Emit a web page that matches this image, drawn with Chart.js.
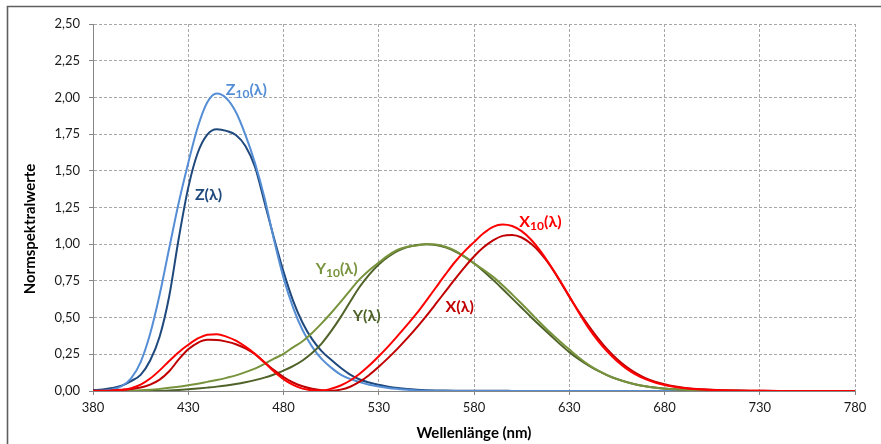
<!DOCTYPE html>
<html>
<head>
<meta charset="utf-8">
<script src="https://cdn.jsdelivr.net/npm/chart.js@4"></script>
<style>
  html, body { margin: 0; padding: 0; background: #ffffff; }
  #c { display: block; }
</style>
</head>
<body>
<canvas id="c" width="881" height="444"></canvas>
<script>
// ---------- data (CIE colour-matching functions) ----------
const wavelengths = [380,385,390,395,400,405,410,415,420,425,430,435,440,445,450,455,460,465,470,475,
  480,485,490,495,500,505,510,515,520,525,530,535,540,545,550,555,560,565,570,575,
  580,585,590,595,600,605,610,615,620,625,630,635,640,645,650,655,660,665,670,675,
  680,685,690,695,700,705,710,715,720,725,730,735,740,745,750,755,760,765,770,775,780];

const xBar = [0.0014,0.0022,0.0042,0.0077,0.0143,0.0232,0.0435,0.0776,0.1344,0.2148,0.2839,0.3285,0.3483,0.3481,0.3362,0.3187,0.2908,0.2511,0.1954,0.1421,
  0.0956,0.0580,0.0320,0.0147,0.0049,0.0024,0.0093,0.0291,0.0633,0.1096,0.1655,0.2257,0.2904,0.3597,0.4334,0.5121,0.5945,0.6784,0.7621,0.8425,
  0.9163,0.9786,1.0263,1.0567,1.0622,1.0456,1.0026,0.9384,0.8544,0.7514,0.6424,0.5419,0.4479,0.3608,0.2835,0.2187,0.1649,0.1212,0.0874,0.0636,
  0.0468,0.0329,0.0227,0.0158,0.0114,0.0081,0.0058,0.0041,0.0029,0.0020,0.0014,0.0010,0.0007,0.0005,0.0003,0.0002,0.0002,0.0001,0.0001,0.0001,0.0000];

const yBar = [0.0000,0.0001,0.0001,0.0002,0.0004,0.0006,0.0012,0.0022,0.0040,0.0073,0.0116,0.0168,0.0230,0.0298,0.0380,0.0480,0.0600,0.0739,0.0910,0.1126,
  0.1390,0.1693,0.2080,0.2586,0.3230,0.4073,0.5030,0.6082,0.7100,0.7932,0.8620,0.9149,0.9540,0.9803,0.9950,1.0000,0.9950,0.9786,0.9520,0.9154,
  0.8700,0.8163,0.7570,0.6949,0.6310,0.5668,0.5030,0.4412,0.3810,0.3210,0.2650,0.2170,0.1750,0.1382,0.1070,0.0816,0.0610,0.0446,0.0320,0.0232,
  0.0170,0.0119,0.0082,0.0057,0.0041,0.0029,0.0021,0.0015,0.0010,0.0007,0.0005,0.0004,0.0002,0.0002,0.0001,0.0001,0.0001,0.0000,0.0000,0.0000,0.0000];

const zBar = [0.0065,0.0106,0.0201,0.0362,0.0679,0.1102,0.2074,0.3713,0.6456,1.0391,1.3856,1.6230,1.7471,1.7826,1.7721,1.7441,1.6692,1.5281,1.2876,1.0419,
  0.8130,0.6162,0.4652,0.3533,0.2720,0.2123,0.1582,0.1117,0.0783,0.0573,0.0422,0.0298,0.0203,0.0134,0.0088,0.0058,0.0039,0.0028,0.0021,0.0018,
  0.0017,0.0014,0.0011,0.0010,0.0008,0.0006,0.0003,0.0002,0.0002,0.0001,0.0001,0.0000,0.0000,0.0000,0.0000,0.0000,0.0000,0.0000,0.0000,0.0000,
  0.0000,0.0000,0.0000,0.0000,0.0000,0.0000,0.0000,0.0000,0.0000,0.0000,0.0000,0.0000,0.0000,0.0000,0.0000,0.0000,0.0000,0.0000,0.0000,0.0000,0.0000];

const xBar10 = [0.0002,0.0007,0.0024,0.0072,0.0191,0.0434,0.0847,0.1406,0.2045,0.2647,0.3147,0.3577,0.3837,0.3867,0.3707,0.3430,0.3023,0.2541,0.1956,0.1323,
  0.0805,0.0411,0.0162,0.0051,0.0038,0.0154,0.0375,0.0714,0.1177,0.1730,0.2365,0.3042,0.3768,0.4516,0.5298,0.6161,0.7052,0.7938,0.8787,0.9512,
  1.0142,1.0743,1.1185,1.1343,1.1240,1.0891,1.0305,0.9507,0.8563,0.7549,0.6475,0.5351,0.4316,0.3437,0.2683,0.2043,0.1526,0.1122,0.0813,0.0579,
  0.0409,0.0286,0.0199,0.0138,0.0096,0.0066,0.0046,0.0031,0.0022,0.0015,0.0010,0.0007,0.0005,0.0004,0.0003,0.0002,0.0001,0.0001,0.0001,0.0000,0.0000];

const yBar10 = [0.0000,0.0001,0.0003,0.0008,0.0020,0.0045,0.0088,0.0145,0.0214,0.0295,0.0387,0.0496,0.0621,0.0747,0.0895,0.1063,0.1282,0.1528,0.1852,0.2199,
  0.2536,0.2977,0.3391,0.3954,0.4608,0.5314,0.6067,0.6857,0.7618,0.8233,0.8752,0.9238,0.9620,0.9822,0.9918,0.9991,0.9973,0.9824,0.9556,0.9152,
  0.8689,0.8256,0.7774,0.7204,0.6583,0.5939,0.5280,0.4618,0.3981,0.3396,0.2835,0.2283,0.1798,0.1402,0.1076,0.0812,0.0603,0.0441,0.0318,0.0226,
  0.0159,0.0111,0.0077,0.0054,0.0037,0.0026,0.0018,0.0012,0.0008,0.0006,0.0004,0.0003,0.0002,0.0001,0.0001,0.0001,0.0001,0.0000,0.0000,0.0000,0.0000];

const zBar10 = [0.0007,0.0029,0.0105,0.0323,0.0860,0.1971,0.3894,0.6568,0.9725,1.2825,1.5535,1.7985,1.9673,2.0273,1.9948,1.9007,1.7454,1.5549,1.3176,1.0302,
  0.7721,0.5701,0.4153,0.3024,0.2185,0.1592,0.1120,0.0822,0.0607,0.0431,0.0305,0.0206,0.0137,0.0079,0.0040,0.0011,0.0000,0.0000,0.0000,0.0000,
  0.0000,0.0000,0.0000,0.0000,0.0000,0.0000,0.0000,0.0000,0.0000,0.0000,0.0000,0.0000,0.0000,0.0000,0.0000,0.0000,0.0000,0.0000,0.0000,0.0000,
  0.0000,0.0000,0.0000,0.0000,0.0000,0.0000,0.0000,0.0000,0.0000,0.0000,0.0000,0.0000,0.0000,0.0000,0.0000,0.0000,0.0000,0.0000,0.0000,0.0000,0.0000];

const xTickMin = 380, xTickMax = 780, xTickStep = 50;
const yTickMin = 0, yTickMax = 2.5, yTickStep = 0.25;
const xTitle = 'Wellenlänge (nm)';
const yTitle = 'Normspektralwerte';

// curve labels: text parts and anchor (in data units)
const curveLabels = [
  { main: 'Z', sub: '10', rest: '(λ)', x: 449.7, y: 2.050, color: '#558ED5' },
  { main: 'Z', sub: '',   rest: '(λ)', x: 433.5, y: 1.335, color: '#1F497D' },
  { main: 'Y', sub: '10', rest: '(λ)', x: 496.9, y: 0.831, color: '#77933C' },
  { main: 'Y', sub: '',   rest: '(λ)', x: 516.3, y: 0.511, color: '#4F6228' },
  { main: 'X', sub: '10', rest: '(λ)', x: 603.8, y: 1.151, color: '#FF0000' },
  { main: 'X', sub: '',   rest: '(λ)', x: 565.1, y: 0.572, color: '#C00000' }
];

// ---------- build ----------
const pts = arr => wavelengths.map((w, i) => ({ x: w, y: arr[i] }));
const mk = (label, arr, color) => ({
  label, data: pts(arr), borderColor: color, backgroundColor: color,
  borderWidth: 2, pointRadius: 0, fill: false, tension: 0.4, cubicInterpolationMode: 'monotone'
});

const FONT = "Lato, 'Open Sans', 'DejaVu Sans', sans-serif";

const decorPlugin = {
  id: 'decor',
  beforeDraw(chart) {
    const c = chart.ctx;
    c.save();
    c.fillStyle = '#ffffff';
    c.fillRect(0, 0, chart.width, chart.height);
    c.strokeStyle = '#5f5f5f';
    c.lineWidth = 1.6;
    c.beginPath();
    c.moveTo(7.5, chart.height);
    c.lineTo(7.5, 6.5);
    c.lineTo(chart.width, 6.5);
    c.stroke();
    c.restore();
  },
  afterDraw(chart) {
    const c = chart.ctx;
    const xs = chart.scales.x, ys = chart.scales.y;
    c.save();
    // axis titles
    c.fillStyle = '#000000';
    c.font = "bold 15px " + FONT;
    c.textAlign = 'center';
    c.textBaseline = 'middle';
    c.fillText(xTitle, (xs.left + xs.right) / 2, 433);
    c.save();
    c.translate(30, 229);
    c.rotate(-Math.PI / 2);
    c.font = "bold 15px " + FONT;
    c.fillText(yTitle, 0, 0);
    c.restore();
    // curve labels
    c.textAlign = 'left';
    curveLabels.forEach(l => {
      let px = xs.getPixelForValue(l.x);
      const py = ys.getPixelForValue(l.y);
      c.fillStyle = l.color;
      c.font = "bold 16px " + FONT;
      c.textBaseline = 'middle';
      c.fillText(l.main, px, py);
      px += c.measureText(l.main).width;
      if (l.sub) {
        c.font = "bold 12px " + FONT;
        c.fillText(l.sub, px, py + 4);
        px += c.measureText(l.sub).width;
        c.font = "bold 16px " + FONT;
      }
      c.fillText(l.rest, px, py);
    });
    c.restore();
  }
};

new Chart(document.getElementById('c'), {
  type: 'line',
  data: {
    datasets: [
      mk('X10', xBar10, '#FF0000'),
      mk('X', xBar, '#C00000'),
      mk('Y10', yBar10, '#77933C'),
      mk('Y', yBar, '#4F6228'),
      mk('Z10', zBar10, '#558ED5'),
      mk('Z', zBar, '#1F497D')
    ]
  },
  options: {
    responsive: false,
    animation: false,
    events: [],
    layout: { padding: { top: 24, right: 26, left: 0, bottom: 0 } },
    plugins: { legend: { display: false }, tooltip: { enabled: false } },
    scales: {
      x: {
        type: 'linear', min: xTickMin, max: xTickMax,
        ticks: { stepSize: xTickStep, color: '#1a1a1a', font: { family: FONT, size: 13 }, padding: 5, maxRotation: 0,
                 callback: v => String(v) },
        grid: { color: '#a8a8a8', lineWidth: 1, tickLength: 4, tickColor: '#868686', drawTicks: true },
        border: { display: true, color: '#868686', width: 1, dash: [3, 2] },
        afterFit(s) { s.height = 53; }
      },
      y: {
        min: yTickMin, max: yTickMax,
        ticks: { stepSize: yTickStep, color: '#1a1a1a', font: { family: FONT, size: 13 }, padding: 9,
                 callback: v => Number(v).toFixed(2).replace('.', ',') },
        grid: { color: '#a8a8a8', lineWidth: 1, tickLength: 4, tickColor: '#868686', drawTicks: true },
        border: { display: true, color: '#868686', width: 1, dash: [3, 2] },
        afterFit(s) { s.width = 93; }
      }
    }
  },
  plugins: [decorPlugin]
});
</script>
</body>
</html>
